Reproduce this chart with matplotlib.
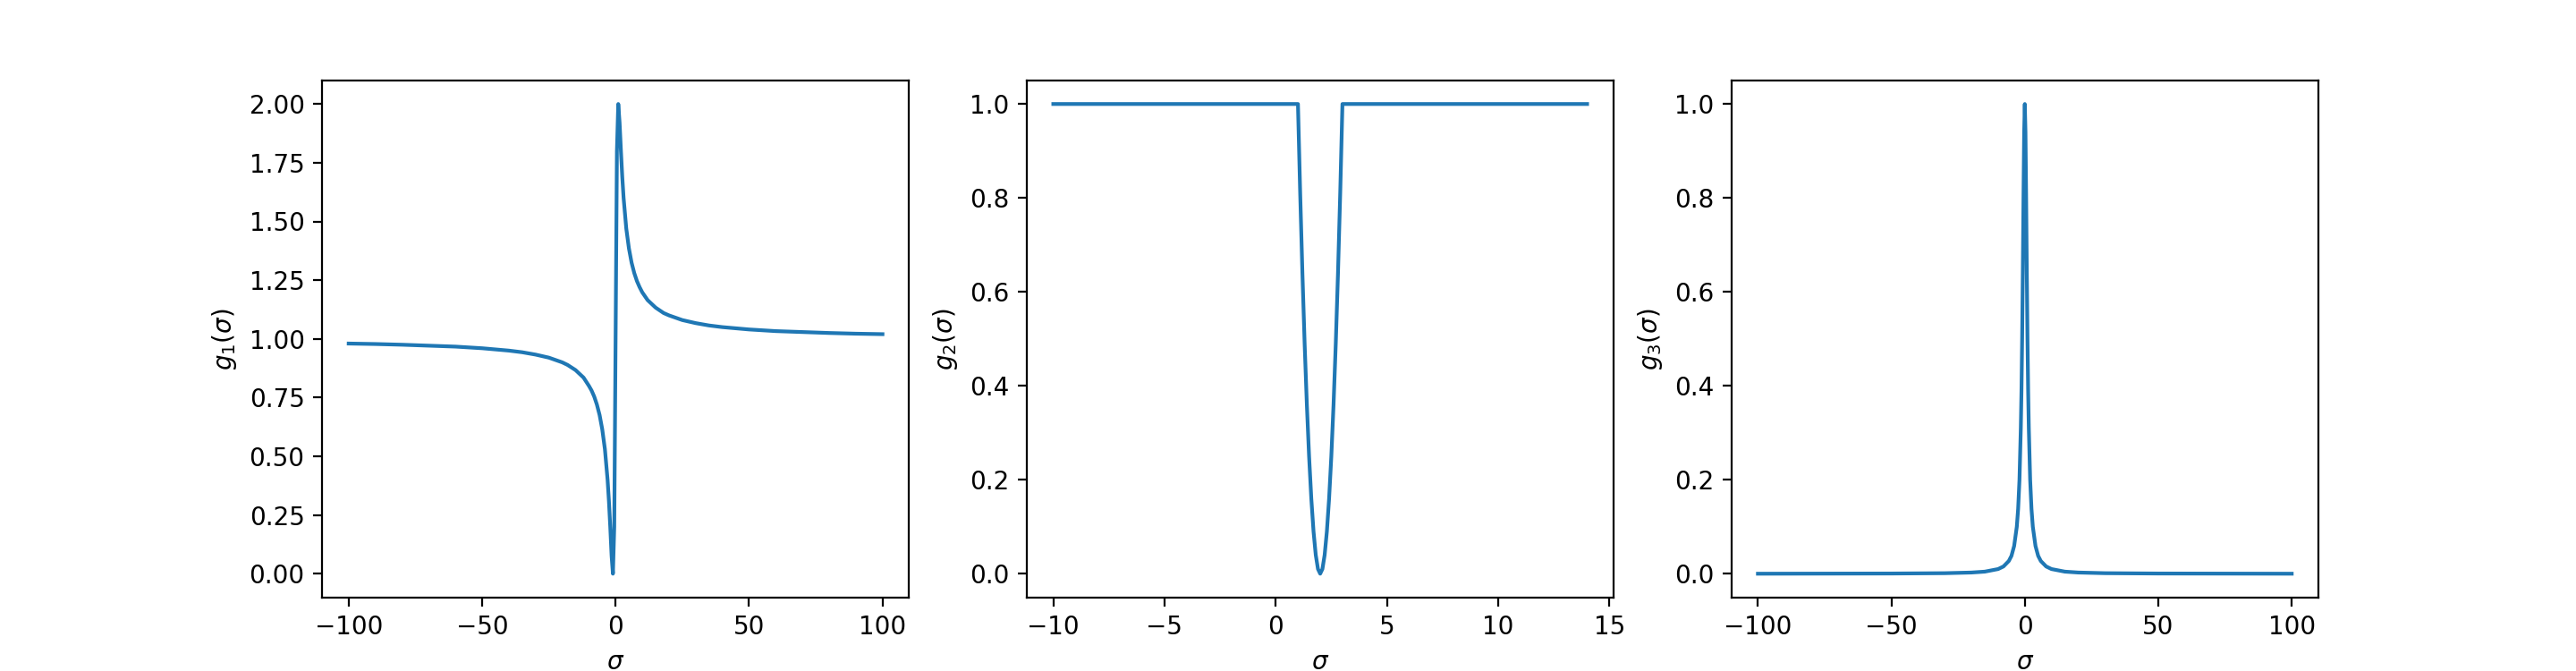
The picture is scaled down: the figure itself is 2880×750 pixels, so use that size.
import matplotlib
matplotlib.use("Agg")
import matplotlib.pyplot as plt

# values
sigma1 = [-100, -90, -80, -70, -60, -50, -40, -35, -30, -25, -20, -18, -15, -12, -10, -9, -8, -7, -6, -5, -4, -3, -2.5, -2, -1.5, -1,
          -0.5, 0, 0.5, 1, 1.5, 2, 2.5, 3, 4, 5, 6, 7, 8, 9, 10, 12, 15, 18, 20, 25, 30, 35, 40, 50, 60, 70, 80, 90, 100]
g1 = [0.98, 0.978, 0.975, 0.971, 0.967, 0.96, 0.95, 0.943, 0.933, 0.92, 0.90, 0.889, 0.867, 0.835, 0.80, 0.78, 0.754, 0.72, 0.676, 0.615, 0.53, 0.40, 0.31, 0.20, 0.077, 0.0,
      0.20, 1.0, 1.80, 2.0, 1.92, 1.80, 1.69, 1.60, 1.47, 1.385, 1.324, 1.28, 1.246, 1.22, 1.198, 1.165, 1.133, 1.11, 1.10, 1.08, 1.067, 1.057, 1.05, 1.04, 1.033, 1.029, 1.025, 1.022, 1.02]

sigma2 = [-10, 1, 1.1, 1.2, 1.3, 1.4, 1.5, 1.6, 1.7, 1.8, 1.9, 2.0,
          2.1, 2.2, 2.3, 2.4, 2.5, 2.6, 2.7, 2.8, 2.9, 3, 14]
g2 = [1.0, 1.0, 0.81, 0.64, 0.49, 0.36, 0.25, 0.16, 0.09, 0.04, 0.01, 0.0,
      0.01, 0.04, 0.09, 0.16, 0.25, 0.36, 0.49, 0.64, 0.81, 1.0, 1.0]

sigma3 = [-100, -50, -30, -20, -15, -10, -8, -6, -5, -4, -3, -2.5, -2, -1.5, -1.25, -1, -0.75, -0.5, -0.25, 0,
          0.25, 0.5, 0.75, 1, 1.25, 1.5, 2, 2.5, 3, 4, 5, 6, 8, 10, 15, 20, 30, 50, 100]
g3 = [0.0, 0.0004, 0.0011, 0.0025, 0.0044, 0.0099, 0.0154, 0.027, 0.038, 0.059, 0.10, 0.138, 0.20, 0.31, 0.39, 0.50, 0.64, 0.80, 0.94, 1.0,
      0.94, 0.80, 0.64, 0.50, 0.39, 0.31, 0.20, 0.138, 0.10, 0.059, 0.038, 0.027, 0.0154, 0.0099, 0.0044, 0.0025, 0.0011, 0.0004, 0.0]

fig, axs = plt.subplots(1, 3, figsize=(14.4, 3.75), dpi=200)

axs[0].plot(sigma1, g1)
axs[0].set_xlabel(r"$\sigma$")
axs[0].set_ylabel(r"$g_1(\sigma)$")

axs[1].plot(sigma2, g2)
axs[1].set_xlabel(r"$\sigma$")
axs[1].set_ylabel(r"$g_2(\sigma)$")

axs[2].plot(sigma3, g3)
axs[2].set_xlabel(r"$\sigma$")
axs[2].set_ylabel(r"$g_3(\sigma)$")

fig.savefig("out.png")
